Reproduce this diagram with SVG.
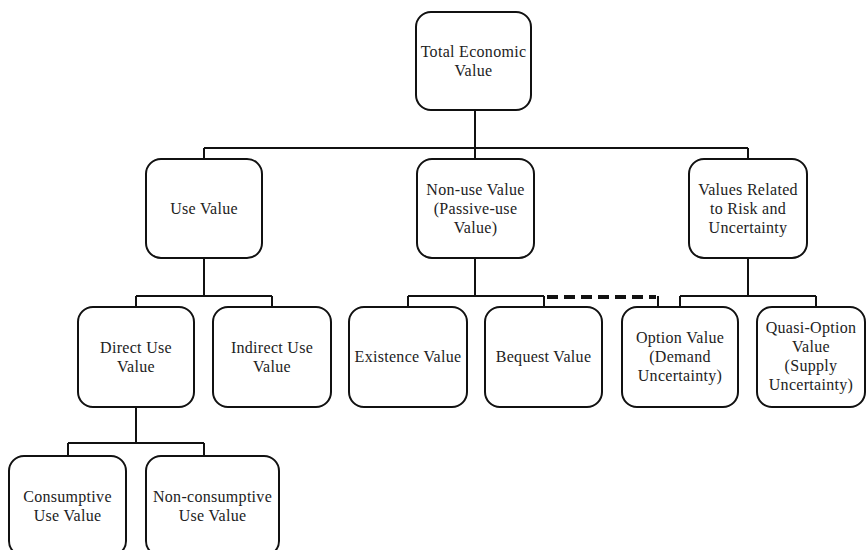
<svg xmlns="http://www.w3.org/2000/svg" width="866" height="550" viewBox="0 0 866 550">
<style>
.box{fill:#fff;stroke:#111;stroke-width:2}
.ln{fill:none;stroke:#111;stroke-width:2}
.dash{fill:none;stroke:#111;stroke-width:4;stroke-dasharray:11 6}
text{font-family:"Liberation Serif","Times New Roman",serif;font-size:16px;fill:#222;text-anchor:middle;letter-spacing:0.3px}
</style>
<rect width="866" height="550" fill="#fff"/>
<g id="connectors">
<path class="ln" d="M475 110V148M204 148H748M204 148V159M475 148V159M748 148V159"/>
<path class="ln" d="M204 258V296M136 296H272M136 296V307M272 296V307"/>
<path class="ln" d="M475 258V296M408 296H544M408 296V307M544 296V307"/>
<path class="ln" d="M748 258V296M680 296H816M680 296V307M816 296V307"/>
<path class="ln" d="M136 407V443M68 443H204M68 443V456M204 443V456"/>
<path class="dash" d="M547 297H656"/>
<path class="ln" d="M658 296V307" stroke-width="1.5"/>
</g>
<g id="tev"><rect class="box" x="416" y="12" width="115" height="98" rx="15"/><text x="473.5" y="57">Total Economic</text><text x="473.5" y="76">Value</text></g>
<g id="use"><rect class="box" x="146" y="159" width="116" height="99" rx="15"/><text x="204" y="214">Use Value</text></g>
<g id="nonuse"><rect class="box" x="417" y="159" width="117" height="99" rx="15"/><text x="475.5" y="195">Non-use Value</text><text x="475.5" y="214">(Passive-use</text><text x="475.5" y="233">Value)</text></g>
<g id="risk"><rect class="box" x="689" y="159" width="118" height="99" rx="15"/><text x="748" y="195">Values Related</text><text x="748" y="214">to Risk and</text><text x="748" y="233">Uncertainty</text></g>
<g id="direct"><rect class="box" x="78" y="307" width="116" height="100" rx="15"/><text x="136" y="353">Direct Use</text><text x="136" y="372">Value</text></g>
<g id="indirect"><rect class="box" x="213" y="307" width="118" height="100" rx="15"/><text x="272" y="353">Indirect Use</text><text x="272" y="372">Value</text></g>
<g id="existence"><rect class="box" x="349" y="307" width="118" height="100" rx="15"/><text x="408" y="362">Existence Value</text></g>
<g id="bequest"><rect class="box" x="485" y="307" width="117" height="100" rx="15"/><text x="543.5" y="362">Bequest Value</text></g>
<g id="option"><rect class="box" x="622" y="307" width="116" height="100" rx="15"/><text x="680" y="343">Option Value</text><text x="680" y="362">(Demand</text><text x="680" y="381">Uncertainty)</text></g>
<g id="quasi"><rect class="box" x="757" y="307" width="108" height="100" rx="15"/><text x="811" y="333">Quasi-Option</text><text x="811" y="352">Value</text><text x="811" y="371">(Supply</text><text x="811" y="390">Uncertainty)</text></g>
<g id="consumptive"><rect class="box" x="9" y="456" width="117" height="100" rx="15"/><text x="67.5" y="502">Consumptive</text><text x="67.5" y="521">Use Value</text></g>
<g id="nonconsumptive"><rect class="box" x="146" y="456" width="133" height="100" rx="15"/><text x="212.5" y="502">Non-consumptive</text><text x="212.5" y="521">Use Value</text></g>
</svg>
